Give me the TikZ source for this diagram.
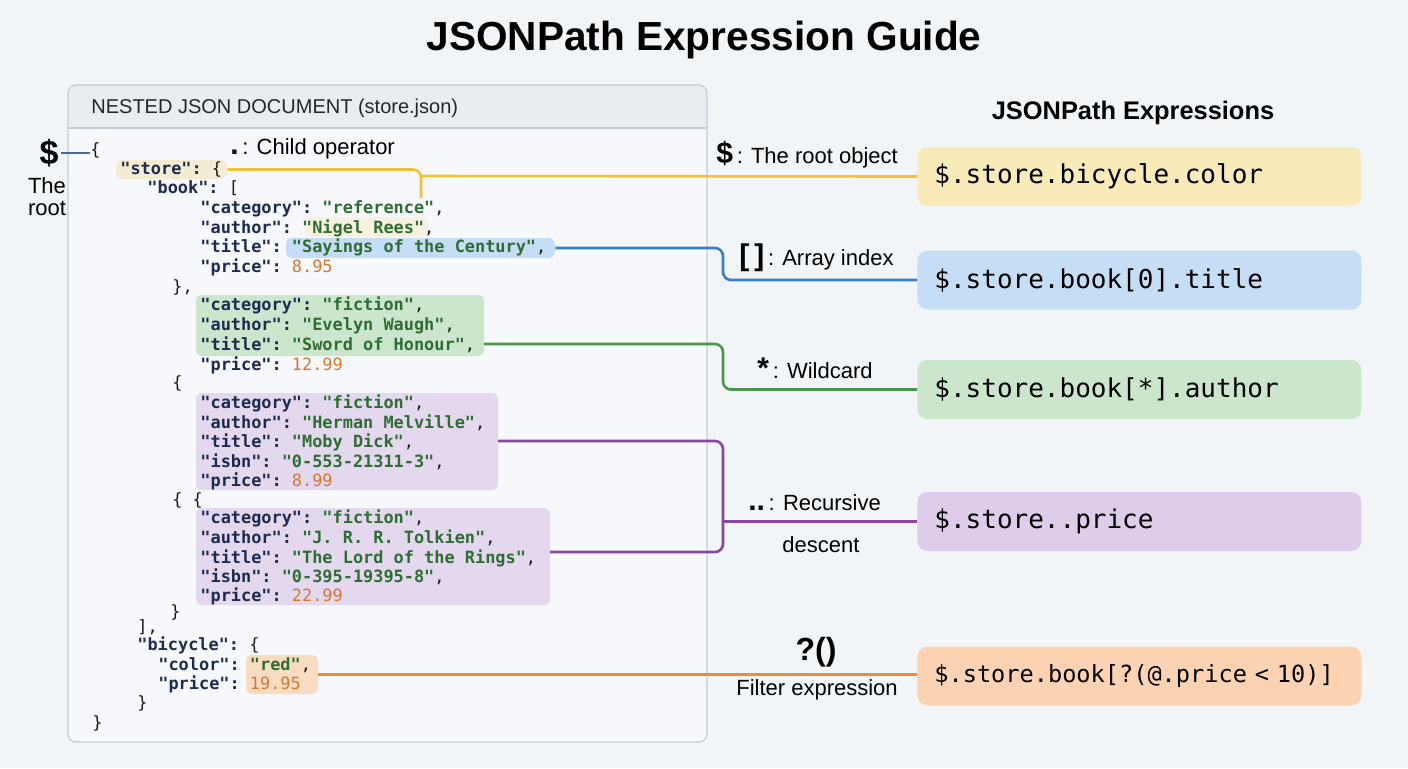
\documentclass[tikz,border=0pt]{standalone}
\usepackage{fontspec}
\setmainfont{Liberation Sans}
\setmonofont{DejaVu Sans Mono}
\usetikzlibrary{fit,positioning}

\definecolor{bgc}{HTML}{F2F5F8}
\definecolor{panelc}{HTML}{F6F8FB}
\definecolor{hdrc}{HTML}{E8EDF2}
\definecolor{framec}{HTML}{C4CCD5}
\definecolor{codec}{HTML}{1A1A1A}
\definecolor{keyc}{HTML}{1E2A4F}
\definecolor{strc}{HTML}{2F6D34}
\definecolor{numc}{HTML}{D47834}
\definecolor{rootc}{HTML}{4A6A90}
\definecolor{lyel}{HTML}{F0C23B}
\definecolor{byel}{HTML}{F8EBB9}
\definecolor{hyel}{HTML}{F4ECD2}
\definecolor{lblue}{HTML}{3A7FC6}
\definecolor{bblue}{HTML}{C5DDF5}
\definecolor{lgreen}{HTML}{4B9550}
\definecolor{bgreen}{HTML}{CBE6CD}
\definecolor{lpurple}{HTML}{8747A3}
\definecolor{bpurple}{HTML}{DDCCEA}
\definecolor{hpurple}{HTML}{E3D8EE}
\definecolor{lorange}{HTML}{ED8A3C}
\definecolor{borange}{HTML}{FBD3B2}
\definecolor{horange}{HTML}{FADCC3}

\newcommand{\jk}[1]{{\bfseries\color{keyc}#1}}
\newcommand{\js}[1]{{\bfseries\color{strc}#1}}
\newcommand{\jn}[1]{{\color{numc}#1}}
\newcommand{\opsym}[1]{{\bfseries\fontsize{15}{15}\selectfont #1}}

\begin{document}
\begin{tikzpicture}[x=0.5pt,y=-0.5pt]
	\tikzset{jline/.style={anchor=base west, inner sep=0pt,
				font=\ttfamily\fontsize{8.45}{10}\selectfont, text=codec}}
	\tikzset{hl/.style={inner sep=0pt, rounded corners=3pt}}
	\tikzset{exbox/.style={anchor=west, rounded corners=5pt, minimum height=29.5pt,
				text width=205pt, inner xsep=8.5pt, align=left,
				font=\ttfamily\fontsize{13}{13}\selectfont}}
	\tikzset{lbl/.style={anchor=west, inner sep=0pt, font=\fontsize{11}{11}\selectfont}}
	\tikzset{link/.style={line width=1.3pt, rounded corners=4pt}}

	\useasboundingbox (0,0) rectangle (1408,768);
	\fill[bgc] (0,0) rectangle (1408,768);

	\node[font=\bfseries\fontsize{20.3}{20.3}\selectfont] (title) at (704,40) {JSONPath Expression Guide};

	% document panel
	\begin{scope}
		\clip[rounded corners=4pt] (68,85) rectangle (707,742);
		\fill[panelc] (68,85) rectangle (707,742);
		\fill[hdrc] (68,85) rectangle (707,128);
	\end{scope}
	\draw[framec, line width=0.6pt] (68,128) -- (707,128);
	\draw[framec, line width=0.6pt, rounded corners=4pt] (68,85) rectangle (707,742);
	\node[lbl, font=\fontsize{10}{10}\selectfont, text=black!85] (hdr) at (91,108) {NESTED JSON DOCUMENT (store.json)};

	% highlights
	\node[hl, fill=hyel, fit={(116,160) (227,179)}] (hlStore) {};
	\node[hl, fill=hyel!70, fit={(305,217) (428,237)}] (hlNigel) {};
	\node[hl, fill=bblue, fit={(286,238) (555,258)}] (hlTitle) {};
	\node[hl, fill=bgreen, fit={(196,295) (484,356)}] (hlWaugh) {};
	\node[hl, fill=hpurple, fit={(196,393) (498,490)}] (hlMelville) {};
	\node[hl, fill=hpurple, fit={(196,508) (550,605)}] (hlTolkien) {};
	\node[hl, fill=horange, fit={(246,655) (318,694)}] (hlRed) {};

	% code
	\node[jline] (l0) at (90,155) {\{};
	\node[jline] (l1) at (120,174) {\jk{"store":} \{};
	\node[jline] (l2) at (147,193) {\jk{"book":} [};
	\node[jline] (l3) at (200,213) {\jk{"category":} \js{"reference"},};
	\node[jline] (l4) at (200,233) {\jk{"author":} \js{"Nigel Rees"},};
	\node[jline] (l5) at (200,252) {\jk{"title":} \js{"Sayings of the Century"},};
	\node[jline] (l6) at (200,272) {\jk{"price":} \jn{8.95}};
	\node[jline] (l7) at (172,292) {\},};
	\node[jline] (l8) at (200,310) {\jk{"category":} \js{"fiction"},};
	\node[jline] (l9) at (200,330) {\jk{"author":} \js{"Evelyn Waugh"},};
	\node[jline] (l10) at (200,350) {\jk{"title":} \js{"Sword of Honour"},};
	\node[jline] (l11) at (200,370) {\jk{"price":} \jn{12.99}};
	\node[jline] (l12) at (172,388) {\{};
	\node[jline] (l13) at (200,408) {\jk{"category":} \js{"fiction"},};
	\node[jline] (l14) at (200,428) {\jk{"author":} \js{"Herman Melville"},};
	\node[jline] (l15) at (200,447) {\jk{"title":} \js{"Moby Dick"},};
	\node[jline] (l16) at (200,467) {\jk{"isbn":} \js{"0-553-21311-3"},};
	\node[jline] (l17) at (200,486) {\jk{"price":} \jn{8.99}};
	\node[jline] (l18) at (172,505) {\{ \{};
	\node[jline] (l19) at (200,523) {\jk{"category":} \js{"fiction"},};
	\node[jline] (l20) at (200,543) {\jk{"author":} \js{"J. R. R. Tolkien"},};
	\node[jline] (l21) at (200,563) {\jk{"title":} \js{"The Lord of the Rings"},};
	\node[jline] (l22) at (200,582) {\jk{"isbn":} \js{"0-395-19395-8"},};
	\node[jline] (l23) at (200,601) {\jk{"price":} \jn{22.99}};
	\node[jline] (l24) at (170,617) {\}};
	\node[jline] (l25) at (137,632) {],};
	\node[jline] (l26) at (137,650) {\jk{"bicycle":} \{};
	\node[jline] (l27) at (158,670) {\jk{"color":} \js{"red"},};
	\node[jline] (l28) at (158,689) {\jk{"price":} \jn{19.95}};
	\node[jline] (l29) at (137,708) {\}};
	\node[jline] (l30) at (92,728) {\}};

	% root marker
	\node[font=\bfseries\fontsize{17}{17}\selectfont, inner sep=1pt] (dollar) at (49,153) {\$};
	\node[align=center, font=\fontsize{11}{11}\selectfont] (rootlbl) at (47,197) {The\\root};
	\draw[rootc, line width=1.3pt] (dollar.east) -- (l0.west |- dollar.east);

	\node[lbl] (child) at (230,149) {\opsym{.}\,: Child operator};

	% expressions
	\node[font=\bfseries\fontsize{12.7}{12.7}\selectfont] (exhead) at (1133,113) {JSONPath Expressions};
	\node[exbox, fill=byel] (exColor) at (917,176.5) {\$.store.bicycle.color};
	\node[exbox, fill=bblue] (exTitle) at (917,280) {\$.store.book[0].title};
	\node[exbox, fill=bgreen] (exAuthor) at (917,389.5) {\$.store.book[*].author};
	\node[exbox, fill=bpurple] (exPrice) at (917,521.5) {\$.store..price};
	\node[exbox, fill=borange, font=\ttfamily\fontsize{11.8}{11.8}\selectfont] (exFilter) at (917,676) {\$.store.book[?(@.price < 10)]};

	% operator labels
	\node[lbl] (opRoot) at (716,155) {\opsym{\$}\,: The root object};
	\node[lbl] (opIndex) at (739,258) {\opsym{[\,]}\,: Array index};
	\node[lbl] (opWild) at (757,368) {\opsym{*}\,: Wildcard};
	\node[lbl] (opRec) at (748,503) {\opsym{..}\,: Recursive};
	\node[font=\fontsize{11}{11}\selectfont] (opRec2) at (821,545) {descent};
	\node[font=\bfseries\fontsize{16}{16}\selectfont] (opFilter) at (816,652) {?()};
	\node[font=\fontsize{11}{11}\selectfont] (opFilter2) at (817,690) {Filter expression};

	% connectors
	\coordinate (busA) at (421,176);
	\coordinate (refEnd) at (421,198);
	\coordinate (busB) at (723,0);
	\coordinate (gOut) at (484,344);
	\coordinate (pOut1) at (498,441);
	\coordinate (pOut2) at (550,552);

	\draw[link, lyel] (hlStore.east) -| (refEnd);
	\draw[link, lyel] (busA) -- (exColor.west);
	\draw[link, lblue] (hlTitle.east) -| (busB |- exTitle.west) -- (exTitle.west);
	\draw[link, lgreen] (gOut) -| (busB |- exAuthor.west) -- (exAuthor.west);
	\draw[link, lpurple] (pOut1) -| (busB |- pOut2) -- (pOut2);
	\draw[link, lpurple] (busB |- exPrice.west) -- (exPrice.west);
	\draw[link, lorange] (hlRed.east) -- (hlRed.east -| exFilter.west);
\end{tikzpicture}
\end{document}
